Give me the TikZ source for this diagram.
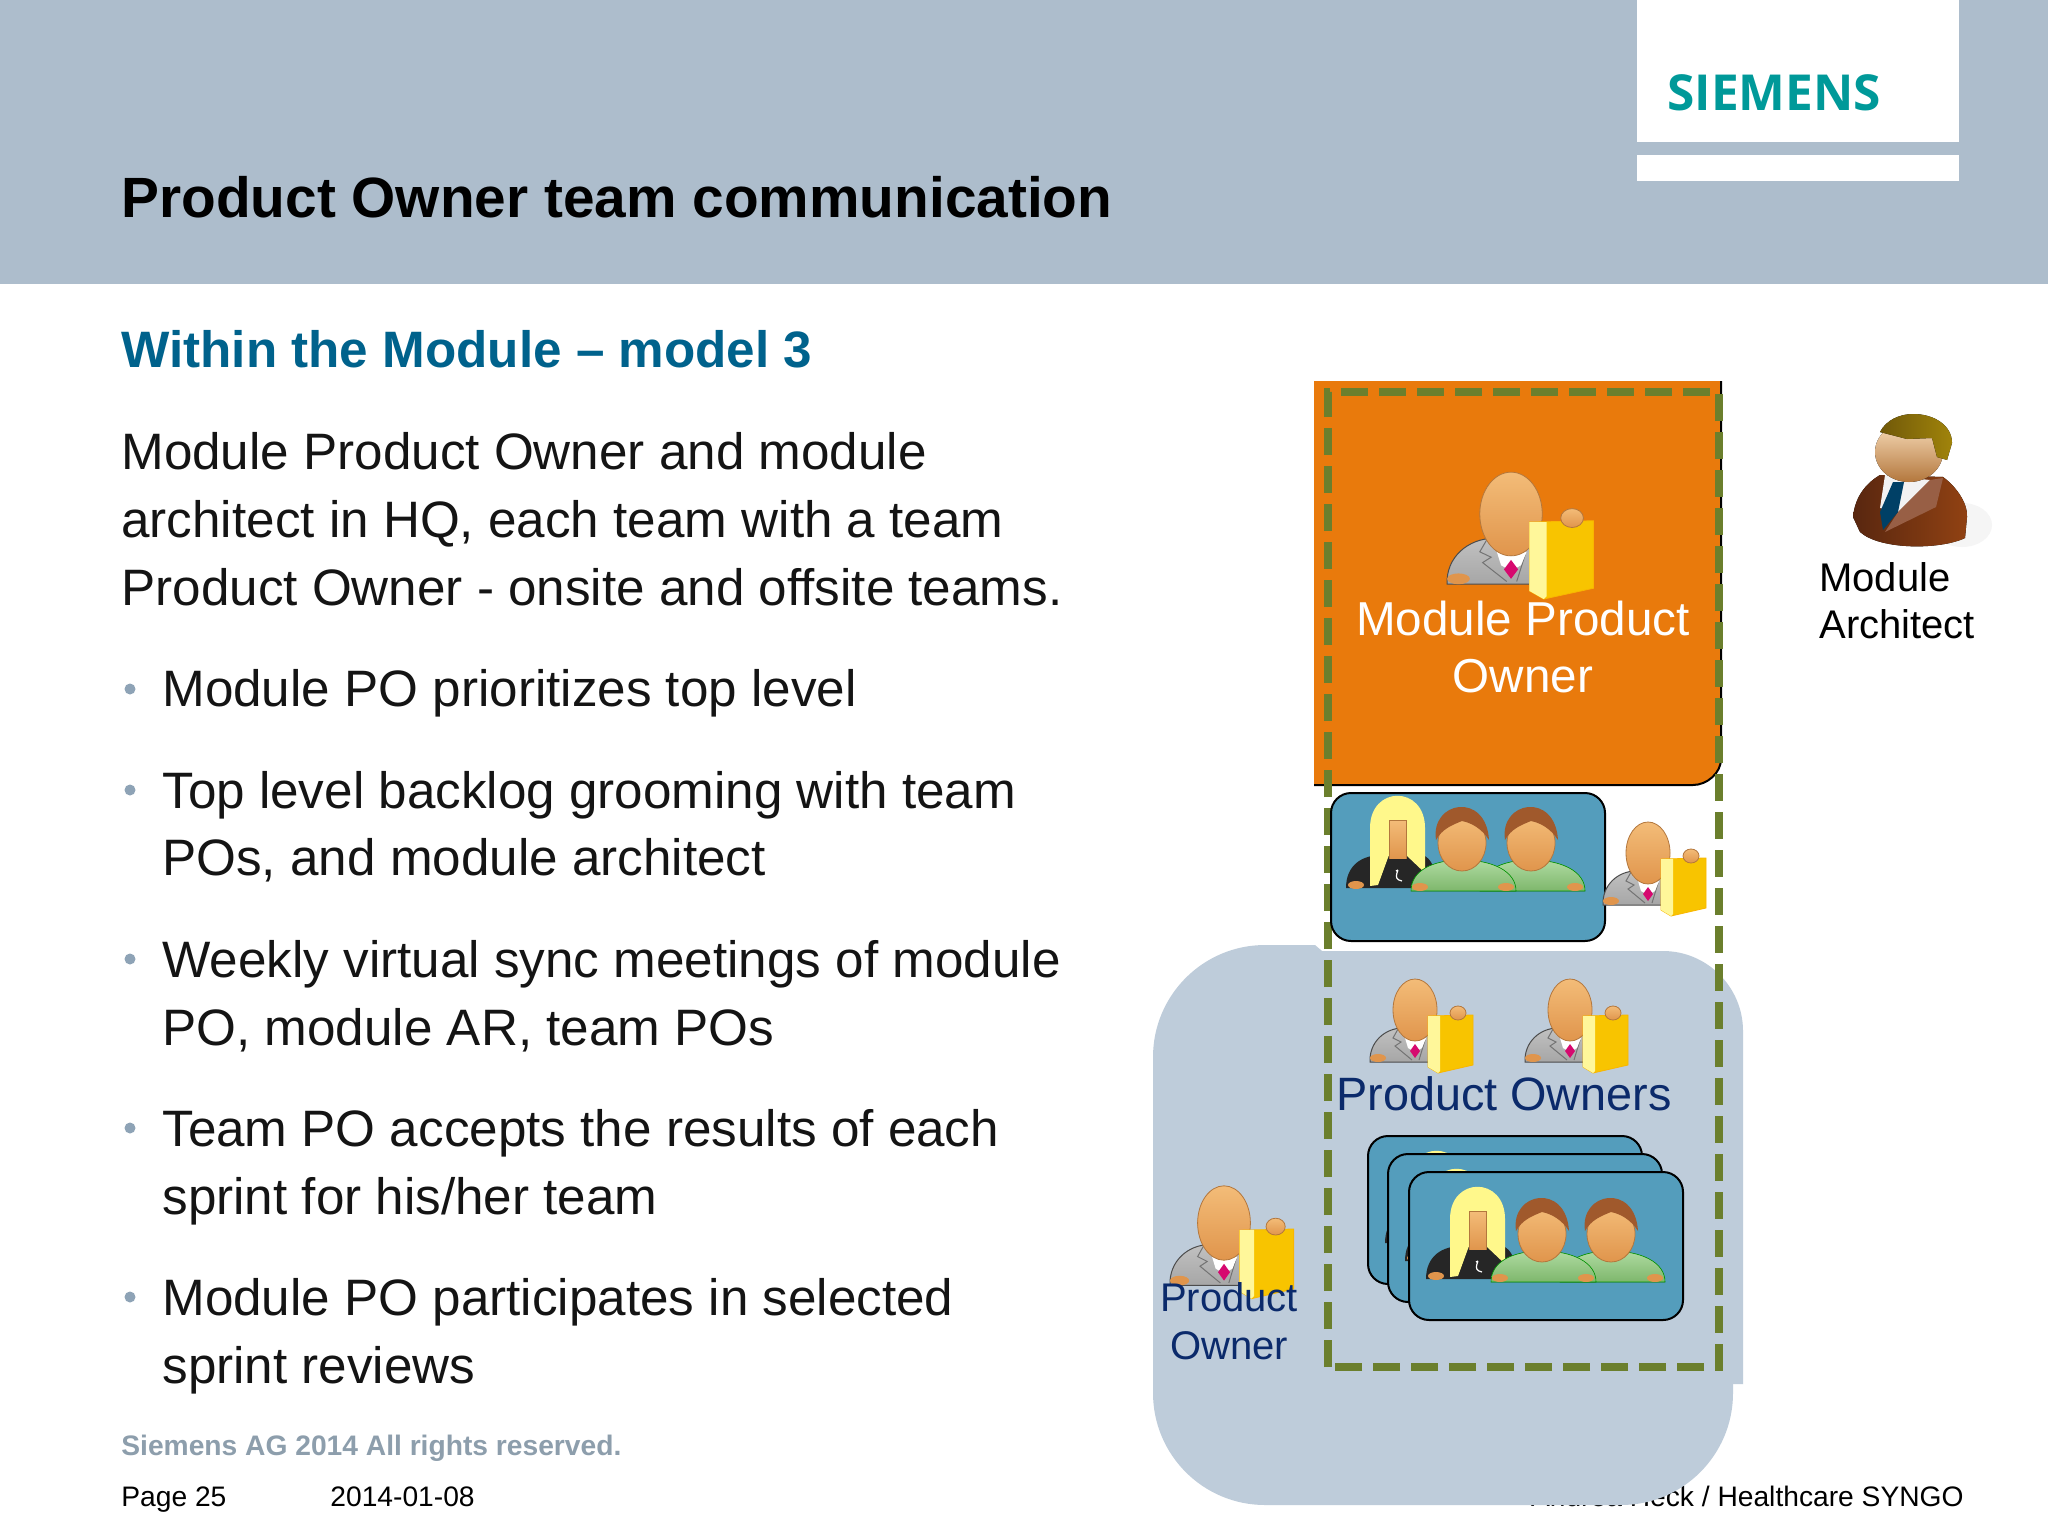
\documentclass[tikz,border=0pt]{standalone}
\usepackage{fontspec}
\setmainfont{Liberation Sans}
\newfontfamily\logofont{Open Sans}
\definecolor{header-gray}{HTML}{ADBDCC}
\definecolor{blob-gray}{HTML}{BECCDA}
\definecolor{module-orange}{HTML}{E97A0C}
\definecolor{dash-green}{HTML}{6B7F2D}
\definecolor{team-blue}{HTML}{549DBC}
\definecolor{siemens-teal}{HTML}{009999}
\definecolor{sub-blue}{HTML}{00628C}
\definecolor{po-navy}{HTML}{0B2A6B}
\definecolor{foot-gray}{HTML}{8D9EAC}
\definecolor{dot-gray}{HTML}{8EA3B6}
\definecolor{face-light}{HTML}{F3BC78}
\definecolor{face-dark}{HTML}{E0954C}
\definecolor{hair-brown}{HTML}{A0592C}
\definecolor{shirt-green}{HTML}{8CCB78}
\definecolor{suit-gray}{HTML}{A6A6A6}
\definecolor{folder-yellow}{HTML}{F8C400}
\definecolor{folder-light}{HTML}{FFF79A}
\definecolor{tie-pink}{HTML}{D6096F}
\definecolor{suit-brown}{HTML}{7E3716}
\definecolor{hair-gold}{HTML}{96760C}
\tikzset{
  bodytext/.style={
    anchor=base west, inner sep=0pt, color=black!92,
    font=\fontsize{25.6}{30}\selectfont
  },
  foottext/.style={
    anchor=base west, inner sep=0pt, color=black,
    font=\fontsize{14.1}{17}\selectfont
  },
  teambox/.style={
    draw=black, fill=team-blue, line width=1pt, rounded corners=10pt,
    minimum width=137pt, minimum height=74pt, inner sep=0pt, anchor=north west
  },
  dashline/.style={
    draw=dash-green, line width=3.6pt, dash pattern=on 13.5pt off 5.5pt
  },
  skin/.style={
    draw=face-dark!80!black, line width=.4pt, top color=face-light, bottom color=face-dark
  },
  poicon/.pic={
    \draw[black!70, line width=.5pt, top color=suit-gray!70, bottom color=suit-gray] (-45,52)
      .. controls (-46,32) and (-30,18) .. (-12,18) -- (16,18) -- (16,52) -- cycle;
    \draw[black!55, line width=.5pt] (-17,19) -- (-22,28) -- (-14,32) -- (-20,36) -- (-3,50);
    \draw[black!55, line width=.5pt] (10,30) -- (4,50);
    \fill[white] (-10,28) -- (11,28) -- (7,38) -- (0,42) -- (-7,38) -- cycle;
    \fill[tie-pink] (0,34) -- (5,41) -- (0,48) -- (-5,41) -- cycle;
    \fill[face-dark] (-37,48) ellipse [x radius=8, y radius=4];
    \path[skin] (0,0) ellipse [x radius=22, y radius=31];
    \fill[folder-yellow, draw=folder-yellow!80!orange, line width=.4pt]
      (13,6) -- (58,5) -- (58,55) -- (23,63) -- (13,57) -- cycle;
    \fill[folder-light] (13,6) -- (25,6) -- (25,61) -- (23,63) -- (13,57) -- cycle;
    \path[skin] (43,3) ellipse [x radius=8, y radius=7];
  },
  teamicon/.pic={
    \fill[black!85] (-116,45) .. controls (-116,22) and (-100,12) .. (-80,12)
      -- (-40,12) .. controls (-30,14) and (-25,30) .. (-25,45) -- cycle;
    \fill[folder-light!90!yellow] (-92,43) -- (-92,-15)
      .. controls (-92,-58) and (-37,-58) .. (-37,-15) -- (-37,30) -- (-56,12)
      -- (-73,12) -- (-84,42) -- cycle;
    \path[skin] (-73,-23) rectangle (-56,16);
    \fill[black!85] (-74,16) -- (-55,16) -- (-48,44) -- (-84,44) -- cycle;
    \draw[white, line width=.6pt] (-66,28) .. controls (-60,24) and (-72,36) .. (-60,38);
    \fill[face-dark] (-106,42) ellipse [x radius=8, y radius=4];
    \foreach \mx in {69,0}{
      \begin{scope}[xshift=\mx*.5pt]
        \fill[top color=shirt-green!70!white, bottom color=shirt-green!90!black, draw=green!60!black, line width=.3pt]
          (-51,48) .. controls (-51,28) and (-30,17) .. (0,17)
          .. controls (30,17) and (54,28) .. (54,48) -- cycle;
        \fill[face-dark] (-42,44) ellipse [x radius=8, y radius=4];
        \fill[face-dark] (44,44) ellipse [x radius=8, y radius=4];
        \path[skin] (0,0) ellipse [x radius=24, y radius=28];
        \fill[hair-brown] (-26,-3) .. controls (-32,-42) and (24,-52) .. (27,-3)
          .. controls (20,-14) and (10,-20) .. (0,-22)
          .. controls (-10,-18) and (-20,-14) .. cycle;
      \end{scope}
    }
  }
}

\begin{document}
\begin{tikzpicture}[x=.5pt, y=-.5pt]
  \useasboundingbox (0,0) rectangle (2048,1536);
  \fill[white] (0,0) rectangle (2048,1536);

  \fill[header-gray] (0,0) rectangle (2048,284);
  \fill[white] (1637,0) rectangle (1959,142);
  \fill[white] (1637,155) rectangle (1959,181);
  \node[anchor=base west, inner sep=0pt, color=siemens-teal, font=\logofont\fontsize{24.8}{28}\selectfont\bfseries] (logo) at (1667,111) {SIEMENS};
  \node[anchor=base west, inner sep=0pt, color=black, font=\fontsize{28.4}{34}\selectfont\bfseries] (title) at (121,217) {Product Owner team communication};
  \node[anchor=base west, inner sep=0pt, color=sub-blue, font=\fontsize{25.6}{30}\selectfont\bfseries] (subtitle) at (121,367) {Within the Module -- model 3};

  \node[bodytext] (intro1) at (121,469) {Module Product Owner and module};
  \node[bodytext] (intro2) at (121,537) {architect in HQ, each team with a team};
  \node[bodytext] (intro3) at (121,605) {Product Owner - onsite and offsite teams.};

  \foreach \ypos/\txt/\nam in {
    706/Module PO prioritizes top level/l1,
    808/Top level backlog grooming with team/l2,
    875/{POs, and module architect}/l3,
    977/Weekly virtual sync meetings of module/l4,
    1045/{PO, module AR, team POs}/l5,
    1146/Team PO accepts the results of each/l6,
    1214/{sprint for his/her team}/l7,
    1315/Module PO participates in selected/l8,
    1383/sprint reviews/l9}
    \node[bodytext] (\nam) at (162,\ypos) {\txt};
  \foreach \ypos in {689,790,959,1128,1297}
    \fill[dot-gray] (130,\ypos) circle [radius=5.5];

  \node[foottext, color=foot-gray, font=\fontsize{14.1}{17}\selectfont\bfseries] (rights) at (121,1455.5) {Siemens AG 2014 All rights reserved.};
  \node[foottext] (page) at (121,1506) {Page 25};
  \node[foottext] (date) at (330,1506) {2014-01-08};
  \node[foottext, anchor=base east] (author) at (1964,1506.5) {Andrea Heck / Healthcare SYNGO};

  % onsite and offsite areas
  \fill[blob-gray, rounded corners=56pt] (1315,945) -- (1153,945) -- (1153,1505) -- (1733,1505) -- (1733,1300);
  \fill[blob-gray] (1315,951) -- (1663,951) .. controls (1707,951) and (1743,987) .. (1743,1031) -- (1743,1384) -- (1315,1384) -- cycle;
  \fill[module-orange] (1314,381) -- (1721,381) -- (1721,759) .. controls (1721,773) and (1707,785) .. (1693,785) -- (1314,785) -- cycle;
  \draw[black, line width=1pt] (1721,381) -- (1721,759) .. controls (1721,773) and (1707,785) .. (1693,785) -- (1314,785);

  \draw[dashline, line cap=butt] (1328,1367) -- (1328,392) -- (1719,392) -- (1719,1367) -- (1328,1367);

  % module level
  \node[teambox] (teamTop) at (1330,792) {};
  \pic (crewTop) at (1462,843) {teamicon};
  \pic[xscale=1.42, yscale=1.35] (poMain) at (1511,514) {poicon};
  \pic (poTeam) at (1648,853) {poicon};
  \node[inner sep=0pt, color=white, align=center, font=\fontsize{23.8}{28.5}\selectfont] (mainLabel) at (1523,647) {Module Product\\Owner};

  % architect
  \fill[black!4] (1962,525) ellipse [x radius=30, y radius=22];
  \fill[left color=suit-brown!70!black, right color=suit-brown!85!orange] (1853,517)
    .. controls (1855,495) and (1868,482) .. (1880,475) -- (1943,477)
    .. controls (1958,488) and (1968,505) .. (1967,517) -- (1965,538)
    .. controls (1940,550) and (1880,550) .. (1860,532) -- cycle;
  \fill[black!5] (1885,475) -- (1930,480) -- (1898,512) -- (1880,508) -- cycle;
  \fill[suit-brown!80!white] (1943,478) -- (1936,507) -- (1885,532) -- (1898,512) -- (1930,480) -- cycle;
  \fill[black!70!blue!50!teal] (1893,482) -- (1904,482) -- (1898,512) -- (1883,530) -- (1880,512) -- cycle;
  \fill[top color=face-light!50!white, bottom color=face-dark!80!black] (1909,452) ellipse [x radius=34, y radius=30];
  \fill[left color=hair-gold!75!black, right color=hair-gold!90!yellow] (1880,432)
    .. controls (1886,420) and (1900,414) .. (1913,414)
    .. controls (1935,414) and (1952,426) .. (1952,443)
    -- (1947,460) -- (1937,457) -- (1932,438) -- (1907,439) -- cycle;
  \node[inner sep=0pt, color=black, align=left, anchor=north west, font=\fontsize{20}{23.5}\selectfont] (archLabel) at (1819,562) {Module\\Architect};

  % teams
  \pic (poA) at (1415,1010) {poicon};
  \pic (poB) at (1570,1010) {poicon};
  \node[inner sep=0pt, color=po-navy, font=\fontsize{23.4}{28}\selectfont] (poLabel) at (1504,1094) {Product Owners};
  \node[teambox] (teamBack) at (1367,1135) {};
  \pic (crewBack) at (1501,1198) {teamicon};
  \node[teambox] (teamMid) at (1387,1153) {};
  \pic (crewMid) at (1521,1216) {teamicon};
  \node[teambox] (teamFront) at (1408,1171) {};
  \pic (crewFront) at (1542,1234) {teamicon};

  \pic[scale=1.2] (poLeft) at (1224,1223) {poicon};
  \node[inner sep=0pt, color=po-navy, align=center, font=\fontsize{20}{24}\selectfont] (ownerLabel) at (1229,1321) {Product\\Owner};
\end{tikzpicture}
\end{document}
